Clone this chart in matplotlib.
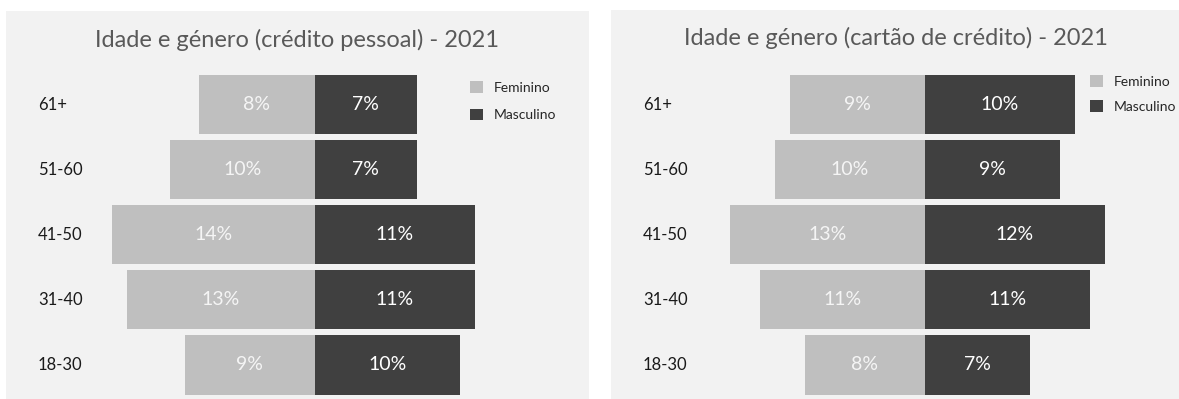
import numpy as np
import matplotlib
matplotlib.use('Agg')
import matplotlib.pyplot as plt
from matplotlib.patches import Rectangle

plt.rcParams['font.family'] = ['Lato', 'DejaVu Sans']

##Age groups, bottom to top
age_groups = ['18-30', '31-40', '41-50', '51-60', '61+']

##Share of clients (%) per age group
pessoal_feminino = [9, 13, 14, 10, 8]
pessoal_masculino = [10, 11, 11, 7, 7]
cartao_feminino = [8, 11, 13, 10, 9]
cartao_masculino = [7, 11, 12, 9, 10]

titles = ['Idade e género (crédito pessoal) - 2021',
          'Idade e género (cartão de crédito) - 2021']
legend_labels = ['Feminino', 'Masculino']

W, H = 1179, 399
bg = '#f2f2f2'
fem_color = '#bfbfbf'
masc_color = '#404040'


def px_box(x0, y0, x1, y1):
    # pixel box (top-left origin) -> figure fraction [left, bottom, width, height]
    return [x0 / W, 1 - y1 / H, (x1 - x0) / W, (y1 - y0) / H]


def draw_panel(fig, panel, axes_box, xlim, title_xy, legend_xy, legend_gap,
               fem, masc, title):

    l, b, w, h = px_box(*panel)
    fig.patches.append(Rectangle((l, b), w, h, transform=fig.transFigure,
                                 facecolor=bg, edgecolor='none', zorder=-1))

    ax = fig.add_axes(px_box(*axes_box))
    ax.set_facecolor('none')
    y = np.arange(len(age_groups))
    f_bars = ax.barh(y, -np.array(fem), height=0.91, color=fem_color, label=legend_labels[0])
    m_bars = ax.barh(y, masc, height=0.91, color=masc_color, label=legend_labels[1])

    for bar, v in zip(f_bars, fem):
        ax.text(bar.get_x() + bar.get_width() / 2, bar.get_y() + bar.get_height() / 2,
                '{}%'.format(v), ha='center', va='center', fontsize=14, color='#f5f5f5')
    for bar, v in zip(m_bars, masc):
        ax.text(bar.get_x() + bar.get_width() / 2, bar.get_y() + bar.get_height() / 2,
                '{}%'.format(v), ha='center', va='center', fontsize=14, color='white')

    ax.set_xlim(*xlim)
    ax.set_ylim(-0.5, len(age_groups) - 0.5)
    ax.set_xticks([])
    ax.set_yticks([])
    for s in ax.spines.values():
        s.set_visible(False)

    # category labels sit at the left edge of the panel
    for yi, lab in zip(y, age_groups):
        ax.annotate(lab, xy=(0, yi), xycoords=('figure fraction', 'data'),
                    xytext=(panel[0] + 32, 0), textcoords=('figure pixels', 'offset points'),
                    ha='left', va='center', fontsize=12, color='#1a1a1a')

    fig.text(title_xy[0] / W, 1 - title_xy[1] / H, title, ha='center', va='center',
             fontsize=17, color='#595959')

    fig.legend(handles=[f_bars, m_bars], loc='upper left',
               bbox_to_anchor=(legend_xy[0] / W, 1 - legend_xy[1] / H),
               frameon=False, fontsize=10, borderpad=0, borderaxespad=0,
               handlelength=0.9, handleheight=0.9, handletextpad=0.8,
               labelspacing=legend_gap, labelcolor='#262626')


def main():

    fig = plt.figure(figsize=(W / 100, H / 100), dpi=100)
    fig.patch.set_facecolor('white')

    draw_panel(fig, (6, 11, 589, 399), (100, 72, 540, 397.5),
               (-215 / 14.5, 225 / 14.5), (297, 40), (470, 81), 1.1,
               pessoal_feminino, pessoal_masculino, titles[0])
    draw_panel(fig, (611, 10, 1179, 399), (700, 72, 1130, 397.5),
               (-225 / 15.0, 205 / 15.0), (896, 38), (1090, 75), 0.9,
               cartao_feminino, cartao_masculino, titles[1])

    fig.savefig('out.png', dpi=100, facecolor=fig.get_facecolor())


if __name__ == '__main__':

    main()
